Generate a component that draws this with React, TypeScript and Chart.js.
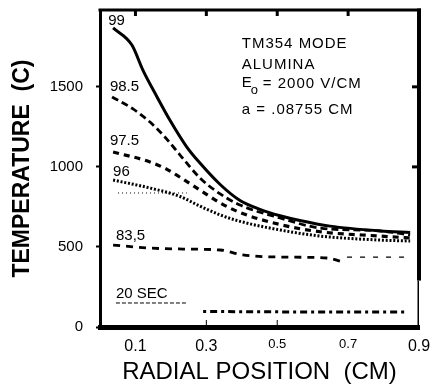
import React, { useEffect, useRef } from "react";
import { Chart, registerables } from "chart.js";

Chart.register(...registerables);

// ---- data ----
const X_TICKS = [0.1, 0.3, 0.5, 0.7, 0.9];
const Y_TICKS = [0, 500, 1000, 1500];

const R_99 = [0.037, 0.09, 0.121, 0.161, 0.197, 0.245, 0.282, 0.339, 0.395, 0.451, 0.508, 0.564, 0.649, 0.79, 0.875];
const T_99 = [1868, 1761, 1605, 1437, 1293, 1124, 1024, 890, 790, 735, 695, 665, 630, 600, 590];

const R_985 = [0.034, 0.093, 0.141, 0.183, 0.226, 0.282, 0.339, 0.395, 0.508, 0.621, 0.79, 0.875];
const T_985 = [1437, 1362, 1280, 1187, 1074, 931, 831, 762, 681, 618, 600, 575];

const R_975 = [0.037, 0.141, 0.189, 0.226, 0.282, 0.339, 0.395, 0.508, 0.621, 0.79, 0.875];
const T_975 = [1093, 1031, 985, 935, 855, 775, 715, 640, 595, 568, 556];

const R_96 = [0.037, 0.141, 0.226, 0.282, 0.339, 0.395, 0.508, 0.621, 0.79, 0.875];
const T_96 = [918, 868, 815, 755, 700, 660, 606, 568, 543, 537];

const R_835 = [0.037, 0.141, 0.234, 0.339, 0.403, 0.508, 0.64, 0.685];
const T_835 = [512, 493, 487, 481, 450, 437, 431, 406];

const R_835_TAIL = [0.697, 0.875];
const T_835_TAIL = [437, 437];

const R_20 = [0.291, 0.45, 0.6, 0.75, 0.86];
const T_20 = [97, 95, 94, 94, 94];

const R_REF_DOT = [0.051, 0.245];
const T_REF_DOT = [837, 837];

const R_REF_DASH = [0.045, 0.248];
const T_REF_DASH = [150, 150];

const CURVE_LABELS = ["99", "98.5", "97.5", "96", "83,5", "20 SEC"];
const INFO_LINES = ["TM354 MODE", "ALUMINA", "E", "o", "= 2000 V/CM", "a = .08755 CM"];

const X_TITLE = "RADIAL POSITION  (CM)";
const Y_TITLE = "TEMPERATURE  (C)";

const pts = (xs: number[], ys: number[]) => xs.map((x, i) => ({ x, y: ys[i] }));

const FONT = "'Liberation Sans', Arial, Helvetica, sans-serif";

const annotPlugin = {
  id: "annot",
  afterDraw(chart: any) {
    const { ctx, chartArea: a, scales } = chart;
    const x = scales.x;
    const y = scales.y;
    const px = (v: number) => x.getPixelForValue(v);
    const py = (v: number) => y.getPixelForValue(v);
    const rect = (x1: number, y1: number, w: number, h: number) => ctx.fillRect(x1, y1, w, h);
    ctx.save();
    ctx.fillStyle = "#000";
    // frame: top and right
    rect(a.left - 1.5, a.top - 1.5, a.right - a.left + 3.5, 3);
    const yBreak = py(290);
    rect(a.right - 2, a.top - 1.5, 4, yBreak - a.top + 1.5);
    rect(a.right - 1.5, yBreak, 1.5, a.bottom - yBreak);
    // inner ticks
    [0.1, 0.3, 0.5, 0.7].forEach((v) => rect(px(v) - 1.5, a.top, 3, 6));
    [1000, 1500].forEach((v) => rect(a.right - 7, py(v) - 1.5, 6, 3));
    [0.3, 0.5].forEach((v) => rect(px(v) - 0.5, a.bottom - 7, 1, 5));

    // curve labels
    const labelPos = [
      [0.023, 1911],
      [0.028, 1499],
      [0.028, 1162],
      [0.037, 968],
      [0.045, 568],
      [0.045, 206],
    ];
    ctx.font = `15px ${FONT}`;
    ctx.textBaseline = "middle";
    ctx.textAlign = "left";
    CURVE_LABELS.forEach((t, i) => {
      ctx.fillText(t, px(labelPos[i][0]), py(labelPos[i][1]));
    });

    // info block
    const ix = px(0.4);
    (ctx as any).letterSpacing = "1px";
    ctx.font = `15px ${FONT}`;
    ctx.fillText(INFO_LINES[0], ix, py(1768));
    ctx.fillText(INFO_LINES[1], ix, py(1636));
    ctx.fillText(INFO_LINES[2], ix, py(1525));
    ctx.font = `13px ${FONT}`;
    ctx.fillText(INFO_LINES[3], ix + 9, py(1480));
    ctx.font = `15px ${FONT}`;
    ctx.fillText(INFO_LINES[4], ix + 21, py(1518));
    ctx.fillText(INFO_LINES[5], ix, py(1355));
    (ctx as any).letterSpacing = "0px";
    ctx.restore();
  },
};

export default function App() {
  const ref = useRef<HTMLCanvasElement | null>(null);
  useEffect(() => {
    if (!ref.current) return;
    const chart = new Chart(ref.current, {
      type: "line",
      data: {
        datasets: [
          { data: pts(R_99, T_99), borderWidth: 3, borderDash: [] },
          { data: pts(R_985, T_985), borderWidth: 2.8, borderDash: [7, 4] },
          { data: pts(R_975, T_975), borderWidth: 3.2, borderDash: [6, 5] },
          { data: pts(R_96, T_96), borderWidth: 3, borderDash: [2, 1.8] },
          { data: pts(R_835, T_835), borderWidth: 2.8, borderDash: [7, 6] },
          { data: pts(R_835_TAIL, T_835_TAIL), borderWidth: 1.2, borderDash: [5, 8] },
          { data: pts(R_20, T_20), borderWidth: 3, borderDash: [3, 4, 7, 4] },
          { data: pts(R_REF_DOT, T_REF_DOT), borderWidth: 1, borderDash: [1, 3] },
          { data: pts(R_REF_DASH, T_REF_DASH), borderWidth: 1, borderDash: [4, 2] },
        ].map((d) => ({
          ...d,
          borderColor: "#000",
          backgroundColor: "#000",
          pointRadius: 0,
          fill: false,
          tension: 0.3,
          cubicInterpolationMode: "monotone" as const,
        })),
      },
      options: {
        responsive: false,
        animation: false,
        layout: { padding: { top: 10, right: 13, left: 0, bottom: 0 } },
        plugins: { legend: { display: false }, tooltip: { enabled: false } },
        scales: {
          x: {
            type: "linear",
            min: 0,
            max: 0.9,
            afterBuildTicks: (s: any) => {
              s.ticks = X_TICKS.map((v) => ({ value: v }));
            },
            afterFit: (s: any) => {
              s.height = 58;
              s.paddingLeft = 0;
              s.paddingRight = 0;
            },
            ticks: {
              color: "#000",
              padding: 10,
              maxRotation: 0,
              autoSkip: false,
              callback: (v: any) => Number(v).toFixed(1),
              font: (c: any) =>
                c.tick && (c.tick.value === 0.5 || c.tick.value === 0.7)
                  ? { family: FONT, size: 13 }
                  : { family: FONT, size: 16 },
            },
            grid: { display: true, drawOnChartArea: false, drawTicks: false },
            border: { display: true, color: "#000", width: 5 },
            title: {
              display: true,
              text: X_TITLE,
              color: "#000",
              font: { family: FONT, size: 24, lineHeight: 1 },
              padding: { top: 0, bottom: 1 },
            },
          },
          y: {
            type: "linear",
            min: 0,
            max: 1980,
            afterBuildTicks: (s: any) => {
              s.ticks = Y_TICKS.map((v) => ({ value: v }));
            },
            afterFit: (s: any) => {
              s.width = 100;
              s.paddingTop = 0;
              s.paddingBottom = 0;
            },
            ticks: {
              color: "#000",
              padding: 13,
              callback: (v: any) => String(v),
              font: { family: FONT, size: 15 },
            },
            grid: { display: true, drawOnChartArea: false, drawTicks: true, tickLength: 4, tickColor: "#000", tickWidth: 2 },
            border: { display: true, color: "#000", width: 3 },
            title: {
              display: true,
              text: Y_TITLE,
              color: "#000",
              font: { family: FONT, size: 23, weight: "bold", lineHeight: 1 },
              padding: { top: 11, bottom: 0 },
            },
          },
        },
      },
      plugins: [annotPlugin],
    });
    return () => chart.destroy();
  }, []);
  return (
    <div style={{ position: "absolute", left: 0, top: 0, width: 432, height: 385, background: "#fff" }}>
      <canvas ref={ref} width={432} height={385} style={{ display: "block" }} />
    </div>
  );
}
